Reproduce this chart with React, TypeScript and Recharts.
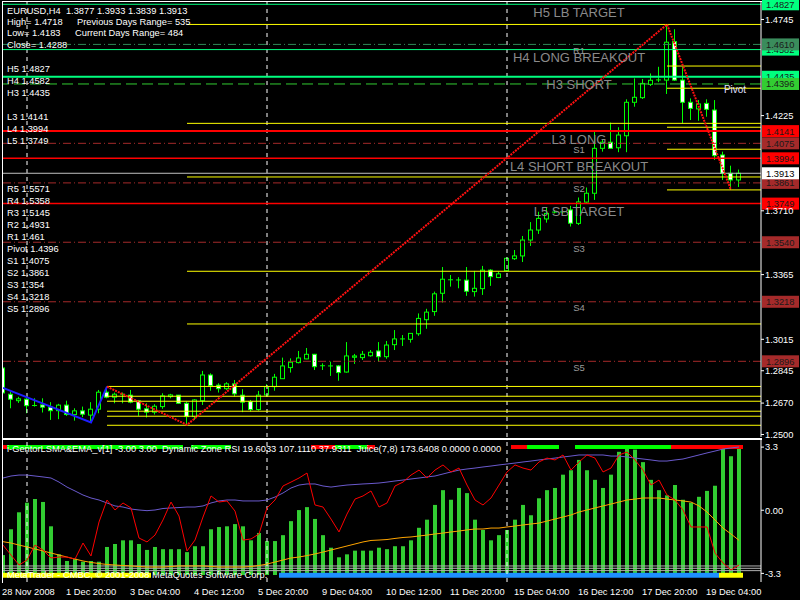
import React from 'react'
import {
  ComposedChart, Bar, Line, XAxis, YAxis, ReferenceLine, ReferenceDot,
} from 'recharts'

const FONT = '"Liberation Sans", Arial, sans-serif'
const CANDLE_GREEN = '#00ff00'

// EURUSD H4, 28 Nov 2008 12:00 .. 19 Dec 2008 04:00
const OPEN = [1.2860,1.2718,1.2683,1.2691,1.2656,1.2660,1.2648,1.2629,1.2659,1.2608,
  1.2628,1.2605,1.2637,1.2729,1.2702,1.2718,1.2713,1.2682,1.2639,1.2621,
  1.2651,1.2705,1.2713,1.2669,1.2597,1.2683,1.2822,1.2767,1.2748,1.2774,
  1.2713,1.2678,1.2635,1.2714,1.2759,1.2802,1.2862,1.2889,1.2909,1.2934,
  1.2871,1.2871,1.2871,1.2838,1.2918,1.2916,1.2926,1.2952,1.2921,1.2986,
  1.3017,1.3015,1.3045,1.3121,1.3165,1.3264,1.3336,1.3336,1.3335,1.3273,
  1.3289,1.3389,1.3349,1.3386,1.3451,1.3466,1.3552,1.3606,1.3666,1.3703,
  1.3703,1.3715,1.3642,1.3757,1.3805,1.4048,1.4081,1.4051,1.4116,1.4297,
  1.4322,1.4394,1.4417,1.4417,1.4625,1.4417,1.4297,1.4261,1.4291,1.4255,
  1.4012,1.3913,1.3877]
const HIGH = [1.2871,1.2732,1.2704,1.2705,1.2696,1.2696,1.2675,1.2666,1.2683,1.2642,
  1.2651,1.2675,1.2741,1.2759,1.2727,1.2727,1.2741,1.2687,1.2669,1.2664,
  1.2723,1.2720,1.2714,1.2678,1.2691,1.2844,1.2831,1.2777,1.2783,1.2795,
  1.2745,1.2687,1.2736,1.2772,1.2828,1.2916,1.2912,1.2952,1.2968,1.2936,
  1.2885,1.2894,1.2876,1.3000,1.2936,1.2952,1.2957,1.3000,1.3006,1.3065,
  1.3038,1.3047,1.3155,1.3180,1.3273,1.3406,1.3363,1.3351,1.3406,1.3385,
  1.3412,1.3394,1.3381,1.3457,1.3498,1.3574,1.3649,1.3705,1.3729,1.3714,
  1.3714,1.3737,1.3782,1.3836,1.4138,1.4093,1.4187,1.4162,1.4313,1.4426,
  1.4423,1.4453,1.4489,1.4718,1.4692,1.4489,1.4318,1.4309,1.4313,1.4309,
  1.4030,1.3954,1.3933]
const LOW = [1.2698,1.2642,1.2671,1.2615,1.2651,1.2619,1.2579,1.2583,1.2601,1.2575,
  1.2594,1.2565,1.2615,1.2696,1.2669,1.2669,1.2669,1.2601,1.2592,1.2608,
  1.2639,1.2696,1.2666,1.2552,1.2579,1.2660,1.2737,1.2727,1.2741,1.2705,
  1.2621,1.2624,1.2629,1.2705,1.2737,1.2801,1.2835,1.2885,1.2907,1.2849,
  1.2849,1.2817,1.2791,1.2835,1.2882,1.2903,1.2921,1.2894,1.2910,1.2957,
  1.2979,1.2997,1.3034,1.3072,1.3142,1.3214,1.3300,1.3291,1.3250,1.3246,
  1.3255,1.3304,1.3346,1.3381,1.3444,1.3433,1.3520,1.3585,1.3646,1.3696,
  1.3693,1.3625,1.3633,1.3748,1.3769,1.4030,1.4048,1.4027,1.4027,1.4273,
  1.4315,1.4385,1.4406,1.4342,1.4412,1.4183,1.4201,1.4197,1.4219,1.3985,
  1.3877,1.3823,1.3839]
const CLOSE = [1.2725,1.2691,1.2693,1.2656,1.2657,1.2648,1.2629,1.2659,1.2608,1.2628,
  1.2610,1.2637,1.2729,1.2702,1.2718,1.2716,1.2675,1.2637,1.2621,1.2653,
  1.2709,1.2714,1.2669,1.2597,1.2687,1.2822,1.2764,1.2748,1.2774,1.2720,
  1.2675,1.2635,1.2713,1.2759,1.2810,1.2871,1.2891,1.2914,1.2934,1.2867,
  1.2872,1.2870,1.2835,1.2925,1.2925,1.2934,1.2945,1.2921,1.2984,1.3017,
  1.3016,1.3047,1.3128,1.3162,1.3261,1.3340,1.3337,1.3335,1.3275,1.3291,
  1.3389,1.3354,1.3369,1.3453,1.3466,1.3552,1.3606,1.3669,1.3696,1.3702,
  1.3704,1.3643,1.3758,1.3805,1.4048,1.4081,1.4048,1.4120,1.4297,1.4324,
  1.4399,1.4416,1.4418,1.4622,1.4417,1.4297,1.4264,1.4288,1.4259,1.4008,
  1.3913,1.3877,1.3913]

// zigzag pivots: [bar, price]
const ZIGZAG_RED: [number, number][] = [[13, 1.2759], [23, 1.2552], [83, 1.4718], [91, 1.3823]]
const ZIGZAG_BLUE: [number, number][] = [[0, 1.2752], [11, 1.2565], [13, 1.2759]]

// yellow retracement levels, drawn from the pivot bar to the right edge
const FIB_START = [13, 23, 83]
const FIB_LEVELS = [
  [1.2760, 1.2707, 1.2680, 1.2626, 1.2599, 1.2550],
  [1.4718, 1.4183, 1.3893, 1.3383, 1.3098],
  [1.4493, 1.4373, 1.4162, 1.4043, 1.3823],
]

const CAM_NAMES = ['H5', 'H4', 'H3', 'L3', 'L4', 'L5']
const CAM_PRICES = [1.4827, 1.4582, 1.4435, 1.4141, 1.3994, 1.3749]
const CAM_TITLES = ['H5 LB TARGET', 'H4 LONG BREAKOUT', 'H3 SHORT', 'L3 LONG', 'L4 SHORT BREAKOUT', 'L5 SB TARGET']

const PIVOT_NAMES = ['R5', 'R4', 'R3', 'R2', 'R1', 'Pivot', 'S1', 'S2', 'S3', 'S4', 'S5']
const PIVOT_PRICES = [1.5571, 1.5358, 1.5145, 1.4931, 1.461, 1.4396, 1.4075, 1.3861, 1.354, 1.3218, 1.2896]

const LAST_PRICE = 1.3913
const DAY_HIGH = 1.4718
const DAY_LOW = 1.4183
const DAY_CLOSE = 1.4288
const PREV_RANGE = 535
const CUR_RANGE = 484

// axis ticks left uncovered by the level tags
const PRICE_TICKS = [1.2500, 1.2670, 1.2845, 1.3015, 1.3365, 1.3710, 1.4225, 1.4745]
const PRICE_DOMAIN = [1.24866, 1.48394]
const X_DOMAIN = [-0.125, 94.75]
const WEEK_BARS = [3, 33, 63]

const TIME_LABELS = ['28 Nov 2008', '1 Dec 20:00', '3 Dec 04:00', '4 Dec 12:00', '5 Dec 20:00', '9 Dec 04:00',
  '10 Dec 12:00', '11 Dec 20:00', '15 Dec 04:00', '16 Dec 12:00', '17 Dec 20:00', '19 Dec 04:00']
const TIME_TICK_BARS = [0, 8, 16, 24, 32, 40, 48, 56, 64, 72, 80, 88]

// indicator window
const JUICE = [27,62,85,98,103,99,66,28,19,22, 18,19,18,38,42,47,47,42,34,38,
  35,35,35,31,39,39,62,65,66,69, 66,47,57,46,46,54,73,88,92,76,
  54,37,24,28,33,33,33,37,35,39, 39,47,64,75,95,115,102,118,111,75,
  61,47,54,61,75,95,81,104,115,118, 136,142,156,142,129,118,136,167,172,170,
  153,129,115,108,122,102,98,106,114,121, 171,161,173.6408]
const DZ_RSI = [34.4,27.0,19.6,23.3,34.4,30.7,24.8,25.5,25.5,24.0, 35.9,26.3,51.5,67.8,60.4,65.6,61.9,39.6,36.7,41.8,
  53.0,66.3,55.9,30.0,38.1,55.2,70.8,66.3,67.1,59.6, 38.1,38.9,42.6,61.9,67.8,78.2,81.1,84.1,87.8,64.1,
  62.6,53.7,44.1,57.4,68.5,70.8,74.5,62.6,65.6,78.2, 81.1,86.3,90.0,84.1,90.0,93.8,88.6,91.5,78.9,67.8,
  64.1,69.3,78.9,88.6,93.8,91.5,90.0,96.0,98.9,97.5, 101.2,90.0,96.0,101.2,98.9,88.6,91.5,101.2,103.4,97.5,
  90.0,78.9,82.6,71.5,67.8,60.4,47.8,47.8,47.8,28.5, 21.1,15.9,19.6033]
const DZ_UPPER = [84.1,85.6,86.3,86.3,85.6,84.9,84.1,81.1,77.4,74.5, 71.5,69.3,67.8,65.6,63.4,62.6,61.1,60.4,59.9,60.4,
  61.5,61.9,62.2,62.6,62.6,63.4,65.6,67.1,67.8,67.8, 67.1,67.1,67.1,67.8,70.0,73.0,76.7,78.9,79.7,79.7,
  78.2,77.4,78.2,78.9,79.3,79.7,80.0,80.4,81.1,81.9, 82.6,83.4,84.1,84.9,85.6,87.1,88.6,90.0,90.8,91.5,
  92.3,93.0,93.8,94.5,95.2,96.0,96.7,97.5,98.2,98.9, 99.7,100.4,101.2,101.2,101.2,101.2,100.4,100.4,99.7,98.9,
  98.2,97.5,96.7,96.7,97.5,98.2,99.7,101.2,102.7,104.1, 105.6,106.4,107.1110]
const DZ_LOWER = [36.9,35.9,34.4,33.0,31.5,30.0,28.5,27.0,25.5,24.0, 22.6,21.5,20.7,20.0,19.6,19.2,18.9,18.5,18.1,18.1,
  18.1,18.5,18.9,18.9,18.9,18.9,18.5,18.1,18.1,18.1, 18.1,18.5,19.2,20.3,21.8,23.3,24.8,25.5,26.6,27.8,
  29.2,30.7,32.2,33.7,35.2,36.7,37.8,38.1,38.5,39.3, 40.0,40.4,41.1,41.8,42.6,43.3,44.1,44.8,45.6,46.3,
  46.3,47.0,47.0,47.8,48.5,49.3,50.0,50.7,52.2,53.7, 55.2,56.7,58.9,60.4,61.9,63.4,64.8,66.3,67.8,68.5,
  69.3,69.3,69.3,68.5,67.8,67.1,66.3,63.4,58.9,53.0, 47.0,42.6,37.9311]
// LSMA/EMA trend strip: 1 up (green), -1 down (red), 0 none
const TREND = [-1,1,1,1,1,1,1,1,1,1, 1,1,1,1,1,1,1,1,1,1, 1,1,1,0,1,1,1,1,1,0,
  0,0,0,0,0,0,0,0,0,-1, -1,-1,1,1,1,1,-1,0,0,0, 0,0,0,0,0,0,0,0,0,0,
  0,0,0,0,-1,-1,1,1,1,1, 0,0,1,1,1,1,1,1,1,1, 1,1,1,1,-1,-1,-1,-1,-1,-1, -1,-1,-1]
// bottom state strip: 1 yellow, 2 blue, 0 none
const STATE = [1,1,1,1,1,1,1,1,1,1, 1,1,1,1,1,1,1,1,1,0, 0,0,0,0,0,0,0,0,0,0,
  0,0,0,0,0,2,2,2,2,2, 2,2,2,2,2,2,2,2,2,2, 2,2,2,2,2,2,2,2,2,2,
  2,2,2,2,2,2,2,2,2,2, 2,2,2,2,2,2,2,2,2,2, 2,2,2,2,2,2,2,2,2,2, 1,1,1]
const ZONE_LINES = [0.113, 0.0965, 0.08]

const zzRed = new Map(ZIGZAG_RED)
const zzBlue = new Map(ZIGZAG_BLUE)

const priceRows = OPEN.map((o, i) => ({
  i, o, h: HIGH[i], l: LOW[i], c: CLOSE[i],
  range: [LOW[i], HIGH[i]],
  zz: zzRed.get(i) ?? null,
  zb: zzBlue.get(i) ?? null,
}))

const indRows = JUICE.map((j, i) => ({
  i, juice: j, rsi: DZ_RSI[i], up: DZ_UPPER[i], lo: DZ_LOWER[i],
  trendDir: TREND[i], stateKind: STATE[i],
  trend: TREND[i] !== 0 ? [0.9366, 0.9648] : null,
  state: STATE[i] !== 0 ? [0.03, 0.065] : null,
}))

function Candle(props: any) {
  const { x, y, width, height, payload } = props
  if (!payload || x == null || y == null) return null
  const top = Math.min(y, y + height)
  const span = Math.abs(height)
  const { o, h, l, c } = payload
  const py = (p: number) => top + ((h - p) / (h - l)) * span
  const cx = Math.floor(x + width / 2 + 0.01) + 0.5
  const bTop = py(Math.max(o, c))
  const bBot = py(Math.min(o, c))
  return (
    <g>
      <line x1={cx} x2={cx} y1={top} y2={top + span} stroke={CANDLE_GREEN} strokeWidth={1} />
      {bBot - bTop < 1.2 ? (
        <line x1={cx - 2.5} x2={cx + 2.5} y1={bTop} y2={bTop} stroke={CANDLE_GREEN} strokeWidth={1} />
      ) : (
        <rect x={cx - 2} y={bTop} width={4} height={bBot - bTop}
          fill={c >= o ? '#000' : '#fff'} stroke={CANDLE_GREEN} strokeWidth={1} />
      )}
    </g>
  )
}

// full-width cell of a colour strip
function StripCell(props: any) {
  const { x, y, width, height, payload, kind } = props
  if (!payload || x == null || y == null) return null
  let fill = 'none'
  if (kind === 'trend') fill = payload.trendDir > 0 ? '#00ff00' : '#ff0000'
  else fill = payload.stateKind === 2 ? '#1e90ff' : '#ffff00'
  const cx = x + width / 2
  return <rect x={cx - 4} y={Math.min(y, y + height)} width={8} height={Math.abs(height)} fill={fill} />
}

function PriceTag(props: any) {
  const { viewBox, text, bg, fg } = props
  if (!viewBox) return null
  const x = viewBox.x + viewBox.width + 1
  const y = viewBox.y
  return (
    <g>
      <rect x={x} y={y - 6} width={37} height={12} fill={bg} />
      <text x={x + 4} y={y + 3.5} fill={fg} fontSize={9.3} fontFamily={FONT}>{text}</text>
    </g>
  )
}

function DotTitle(props: any) {
  const { viewBox, text, size, fill, dy } = props
  if (!viewBox) return null
  const cx = viewBox.x + (viewBox.width || 0) / 2
  const cy = viewBox.y + (viewBox.height || 0) / 2
  return (
    <text x={cx} y={cy + dy} textAnchor="middle" fill={fill} fontSize={size} fontFamily={FONT}>{text}</text>
  )
}

function camStyle(name: string) {
  if (name === 'H3') return { stroke: '#00ff7f', width: 2 }
  if (name[0] === 'H') return { stroke: '#00ff7f', width: 1 }
  if (name === 'L3') return { stroke: '#ff0000', width: 2 }
  return { stroke: '#ff0000', width: 1.5 }
}

function pivotStyle(name: string) {
  if (name === 'Pivot') return { stroke: '#32cd32', dash: '11 5', tag: '#32cd32' }
  if (name[0] === 'R') return { stroke: '#2e8b57', dash: '8 3 1 3', tag: '#3a8c5c' }
  return { stroke: '#a52a2a', dash: '8 3 1 3', tag: '#a52a2a' }
}

function MainPanel() {
  return (
    <ComposedChart width={800} height={440} data={priceRows} margin={{ top: 2, right: 0, left: 2, bottom: 3 }}>
      <XAxis xAxisId="x" type="number" dataKey="i" domain={X_DOMAIN} allowDataOverflow hide />
      <YAxis yAxisId="p" orientation="right" type="number" domain={PRICE_DOMAIN} allowDataOverflow
        ticks={PRICE_TICKS} interval={0} width={39}
        tickFormatter={(v: number) => v.toFixed(4)}
        tick={{ fill: '#ffffff', fontSize: 9.3, fontFamily: FONT }}
        axisLine={{ stroke: '#ffffff' }} tickLine={{ stroke: '#ffffff' }} tickSize={3} tickMargin={1} />

      {WEEK_BARS.map(b => (
        <ReferenceLine key={'w' + b} xAxisId="x" yAxisId="p" x={b} stroke="#ffffff" strokeDasharray="4 4" />
      ))}

      {FIB_LEVELS.map((levels, k) => levels.map(p => (
        <ReferenceLine key={'f' + k + p} xAxisId="x" yAxisId="p"
          segment={[{ x: FIB_START[k], y: p }, { x: X_DOMAIN[1], y: p }]} stroke="#ffff00" strokeWidth={1} />
      )))}

      {CAM_NAMES.map((n, k) => {
        const s = camStyle(n)
        return (
          <ReferenceLine key={'cm' + n} xAxisId="x" yAxisId="p" y={CAM_PRICES[k]} stroke={s.stroke} strokeWidth={s.width}
            label={<PriceTag text={CAM_PRICES[k].toFixed(4)} bg={s.stroke} fg="#1a1a1a" />} />
        )
      })}

      {PIVOT_NAMES.map((n, k) => {
        const p = PIVOT_PRICES[k]
        if (p > PRICE_DOMAIN[1]) return null
        const s = pivotStyle(n)
        return (
          <ReferenceLine key={'pv' + n} xAxisId="x" yAxisId="p" y={p} stroke={s.stroke} strokeDasharray={s.dash}
            label={<PriceTag text={p.toFixed(4)} bg={s.tag} fg="#1a1a1a" />} />
        )
      })}

      <ReferenceLine xAxisId="x" yAxisId="p" y={LAST_PRICE} stroke="#c0c0c0"
        label={<PriceTag text={LAST_PRICE.toFixed(4)} bg="#ffffff" fg="#000000" />} />

      <Bar xAxisId="x" yAxisId="p" dataKey="range" barSize={5} shape={<Candle />} isAnimationActive={false} />

      <Line xAxisId="x" yAxisId="p" dataKey="zb" connectNulls stroke="#1e1eff" strokeWidth={2} dot={false} isAnimationActive={false} />
      <Line xAxisId="x" yAxisId="p" dataKey="zz" connectNulls stroke="#ff1010" strokeWidth={2} strokeDasharray="2 1" dot={false} isAnimationActive={false} />

      {CAM_NAMES.map((n, k) => (
        <ReferenceDot key={'ct' + n} xAxisId="x" yAxisId="p" x={72} y={CAM_PRICES[k]} r={1} fill="none" stroke="none"
          label={<DotTitle text={CAM_TITLES[k]} size={13} fill="#8a8a8a" dy={12.6} />} />
      ))}
      {PIVOT_NAMES.map((n, k) => {
        const p = PIVOT_PRICES[k]
        if (p > PRICE_DOMAIN[1]) return null
        const isPivot = n === 'Pivot'
        return (
          <ReferenceDot key={'pt' + n} xAxisId="x" yAxisId="p" x={isPivot ? 91.5 : 72} y={p} r={1} fill="none" stroke="none"
            label={<DotTitle text={n} size={isPivot ? 10 : 9.5} fill={isPivot ? '#e0e0ff' : '#9a9a9a'} dy={9.4} />} />
        )
      })}
    </ComposedChart>
  )
}

function TimeTick(props: any) {
  const { x, payload } = props
  const k = TIME_TICK_BARS.indexOf(payload.value)
  return (
    <text x={x - 1} y={155} fill="#ffffff" fontSize={9.3} fontFamily={FONT} textAnchor="start">
      {TIME_LABELS[k]}
    </text>
  )
}

function IndicatorPanel() {
  return (
    <ComposedChart width={800} height={160} data={indRows} margin={{ top: 0, right: 0, left: 2, bottom: 0 }}>
      <XAxis xAxisId="t" type="number" dataKey="i" domain={X_DOMAIN} allowDataOverflow
        ticks={TIME_TICK_BARS} interval={0} height={18} tick={<TimeTick />}
        axisLine={{ stroke: '#ffffff' }} tickLine={{ stroke: '#ffffff' }} tickSize={4} />
      <XAxis xAxisId="a" type="number" dataKey="i" domain={X_DOMAIN} allowDataOverflow hide />
      <XAxis xAxisId="b" type="number" dataKey="i" domain={X_DOMAIN} allowDataOverflow hide />
      <XAxis xAxisId="c" type="number" dataKey="i" domain={X_DOMAIN} allowDataOverflow hide />
      <YAxis yAxisId="v" orientation="right" type="number" domain={[-3.75, 3.67]} allowDataOverflow
        ticks={[3.3, 0, -3.3]} interval={0} width={39}
        tickFormatter={(v: number) => (v === 0 ? '0.00' : String(v))}
        tick={{ fill: '#ffffff', fontSize: 9.3, fontFamily: FONT }}
        axisLine={{ stroke: '#ffffff' }} tickLine={{ stroke: '#ffffff' }} tickSize={3} tickMargin={1} />
      <YAxis yAxisId="juice" type="number" domain={[-9.5, 183]} allowDataOverflow hide />
      <YAxis yAxisId="dz" type="number" domain={[7.0, 112.3]} allowDataOverflow hide />
      <YAxis yAxisId="strip" type="number" domain={[0, 1]} allowDataOverflow hide />

      {ZONE_LINES.map(v => (
        <ReferenceLine key={'z' + v} xAxisId="t" yAxisId="strip" y={v} stroke="#b0b0b0" />
      ))}
      {WEEK_BARS.map(b => (
        <ReferenceLine key={'w' + b} xAxisId="t" yAxisId="v" x={b} stroke="#ffffff" strokeDasharray="4 4" />
      ))}

      <Bar xAxisId="a" yAxisId="juice" dataKey="juice" barSize={4} fill="#32cd32" isAnimationActive={false} />
      <Bar xAxisId="b" yAxisId="strip" dataKey="trend" barSize={6} shape={<StripCell kind="trend" />} isAnimationActive={false} />
      <Bar xAxisId="c" yAxisId="strip" dataKey="state" barSize={6} shape={<StripCell kind="state" />} isAnimationActive={false} />

      <Line xAxisId="a" yAxisId="dz" dataKey="up" stroke="#6a5acd" strokeWidth={1} dot={false} isAnimationActive={false} />
      <Line xAxisId="a" yAxisId="dz" dataKey="lo" stroke="#ffa500" strokeWidth={1} dot={false} isAnimationActive={false} />
      <Line xAxisId="a" yAxisId="dz" dataKey="rsi" stroke="#ff0000" strokeWidth={1} dot={false} isAnimationActive={false} />
    </ComposedChart>
  )
}

export default function App() {
  const txt = { fill: '#ffffff', fontSize: 9.3, fontFamily: FONT, style: { whiteSpace: 'pre' as const } }
  const n = OPEN.length - 1
  const q = `EURUSD,H4  ${OPEN[n].toFixed(4)} ${HIGH[n].toFixed(4)} ${LOW[n].toFixed(4)} ${CLOSE[n].toFixed(4)}`
  const camY = [72.2, 83.8, 95.8, 119.8, 131.8, 143.8]
  const m = JUICE.length - 1
  return (
    <div style={{ position: 'absolute', left: 0, top: 0, width: 800, height: 600, background: '#000', overflow: 'hidden' }}>
      <div style={{ position: 'absolute', left: 0, top: 0 }}><MainPanel /></div>
      <div style={{ position: 'absolute', left: 0, top: 440 }}><IndicatorPanel /></div>

      <div style={{ position: 'absolute', left: 2, top: 1, width: 759, height: 436, borderLeft: '1px solid #fff', borderTop: '1px solid #fff', borderBottom: '1px solid #fff', pointerEvents: 'none' }} />
      <div style={{ position: 'absolute', left: 2, top: 439, width: 759, height: 143, borderLeft: '1px solid #fff', borderTop: '1px solid #fff', pointerEvents: 'none' }} />

      <svg width={800} height={600} style={{ position: 'absolute', left: 0, top: 0, pointerEvents: 'none' }}>
        <text x={7} y={14.2} {...txt}>{q}</text>
        <text x={7} y={24.8} {...txt}>{`High= ${DAY_HIGH}`}</text>
        <text x={77} y={24.8} {...txt}>{`Previous Days Range= ${PREV_RANGE}`}</text>
        <text x={7} y={36.2} {...txt}>{`Low= ${DAY_LOW}`}</text>
        <text x={75} y={36.2} {...txt}>{`Current Days Range= ${CUR_RANGE}`}</text>
        <text x={7} y={47.5} {...txt}>{`Close= ${DAY_CLOSE}`}</text>
        {CAM_NAMES.map((c, k) => (
          <text key={c} x={7} y={camY[k]} {...txt}>{`${c} ${CAM_PRICES[k]}`}</text>
        ))}
        {PIVOT_NAMES.map((p, k) => (
          <text key={p} x={7} y={191.8 + k * 12} {...txt}>{`${p} ${PIVOT_PRICES[k]}`}</text>
        ))}
        <text x={7} y={452} {...txt}>
          {`i-GentorLSMA&EMA_v[1] -3.00 3.00  Dynamic Zone RSI ${DZ_RSI[m].toFixed(4)} ${DZ_UPPER[m].toFixed(4)} ${DZ_LOWER[m].toFixed(4)}  Juice(7,8) ${JUICE[m].toFixed(4)} 0.0000 0.0000`}
        </text>
        <text x={7} y={578} {...txt}>MetaTrader - CMBC, © 2001-2008 MetaQuotes Software Corp.</text>
      </svg>
    </div>
  )
}
